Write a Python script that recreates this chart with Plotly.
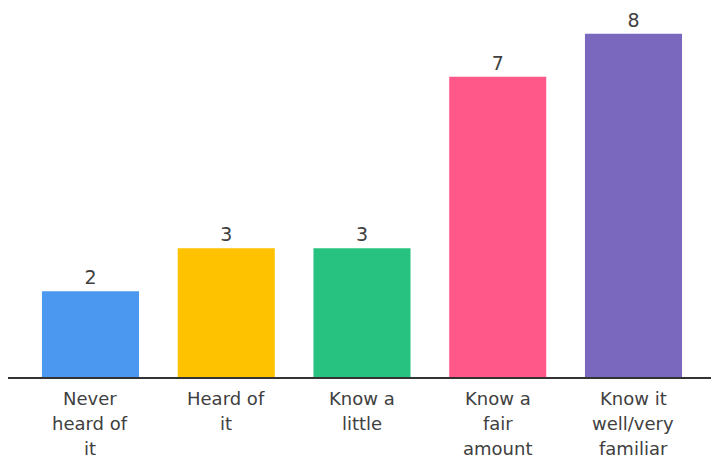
import plotly.graph_objects as go

categories = ["Never|heard of|it", "Heard of|it", "Know a|little", "Know a|fair|amount", "Know it|well/very|familiar"]
values = [2, 3, 3, 7, 8]
colors = ["#4A98EF", "#FFC200", "#27C280", "#FF5889", "#7A68BF"]

FONT = "DejaVu Sans"
TXT = "#404040"
LINE_GAP = 25

fig = go.Figure(go.Bar(
    x=list(range(len(values))), y=values,
    marker=dict(color=colors, line=dict(width=0)),
    width=0.715,
    text=[str(v) for v in values], textposition="outside",
    textfont=dict(size=19, color=TXT, family=FONT),
    cliponaxis=False,
))

for i, cat in enumerate(categories):
    for k, line in enumerate(cat.split("|")):
        fig.add_annotation(
            x=i, y=0, xref="x", yref="y", text=line, showarrow=False,
            xanchor="center", yanchor="middle", yshift=-(21 + k * LINE_GAP),
            borderpad=0,
            font=dict(size=18, color=TXT, family=FONT),
        )

fig.update_layout(
    width=711, height=452,
    margin=dict(l=0, r=0, t=0, b=83),
    paper_bgcolor="white", plot_bgcolor="white",
    showlegend=False,
    font=dict(family=FONT, color=TXT),
    xaxis=dict(range=[-0.6077, 4.630], showticklabels=False,
               showline=True, linecolor="#333333", linewidth=2,
               showgrid=False, zeroline=False, ticks=""),
    yaxis=dict(range=[0, 8.60], visible=False, showgrid=False, zeroline=False),
)
fig.write_html("out.html")
